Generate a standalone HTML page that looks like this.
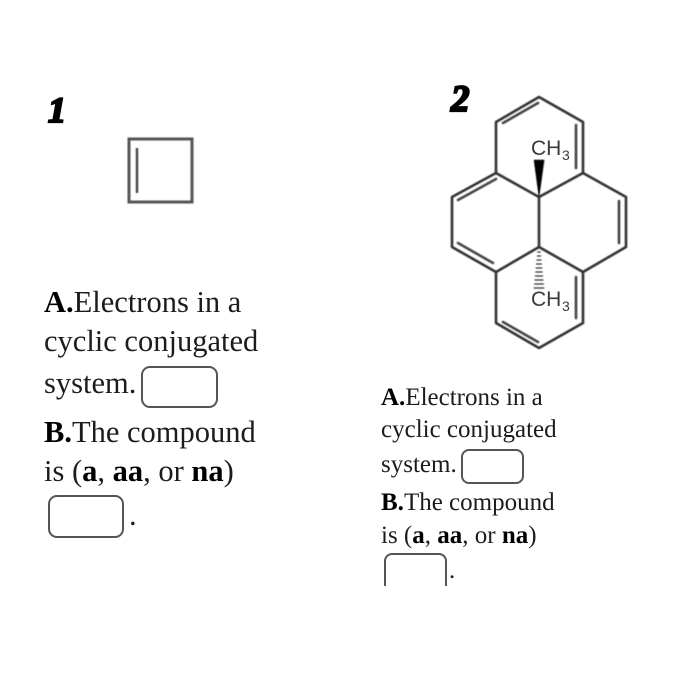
<!DOCTYPE html>
<html>
<head>
<meta charset="utf-8">
<style>
html,body{margin:0;padding:0;background:#fff;width:700px;height:700px;overflow:hidden}
svg{display:block}
.t{font-family:"Liberation Serif",serif;fill:#1c1c1c}
.l{font-size:30.5px}
.r{font-size:25px}
.b{font-weight:bold;fill:#000}
.n{font-family:"Liberation Serif",serif;font-weight:bold;font-style:italic;fill:#000;stroke:#000;stroke-width:2.2px}
.c{font-family:"Liberation Sans",sans-serif;fill:#3a3a3a;font-size:21px}
.c2{font-family:"Liberation Sans",sans-serif;fill:#3a3a3a;font-size:14px}
.bx{fill:#fff;stroke:#555;stroke-width:2}
</style>
</head>
<body>
<svg width="700" height="700" viewBox="0 0 700 700" xmlns="http://www.w3.org/2000/svg">
<defs>
<filter id="s" x="-5%" y="-5%" width="110%" height="110%"><feGaussianBlur stdDeviation="0.45"/></filter>
<filter id="s2" x="0" y="0" width="700" height="700" filterUnits="userSpaceOnUse"><feGaussianBlur stdDeviation="0.3"/></filter>
<clipPath id="cl"><rect x="375" y="545" width="85" height="41"/></clipPath>
</defs>

<text class="n" x="48" y="122" font-size="36">1</text>
<text class="n" x="451" y="111" font-size="37">2</text>

<g filter="url(#s)" fill="none">
<rect x="129" y="139" width="63" height="63" stroke="#555" stroke-width="3"/>
<line x1="137" y1="148" x2="137" y2="193" stroke="#444" stroke-width="2.4"/>
</g>

<g filter="url(#s)" fill="none" stroke="#333" stroke-width="2.6" stroke-linecap="round" stroke-linejoin="round">
<path d="M539 97L583 122V173L626 197V247L583 272V323L539 348L496 323V272L452 247V197L496 173V122Z"/>
<path d="M496 173L539 197L583 173M539 197V247M496 272L539 247L583 272"/>
<path d="M503 123L538 103M576 125V168M458 200L496 179M458 243L493 263M619 201V243M576 277V318M503 322L538 342" stroke="#444"/>
<polygon points="539,197 534,160 544,160" fill="#000" stroke="#000" stroke-width="0.5"/>
<path d="M537.8 252H540.2M537.4 256H540.6M537 260H541M536.6 264H541.4M536.2 268H541.8M535.8 272H542.2M535.4 276H542.6M535 280H543M534.6 284H543.4M534.2 288H543.8" stroke="#333" stroke-width="1.3"/>
</g>
<g filter="url(#s2)">
<text class="c" x="531" y="155">CH</text>
<text class="c2" x="562" y="160">3</text>
<text class="c" x="531" y="306">CH</text>
<text class="c2" x="562" y="311">3</text>

<text class="t l" x="44" y="312"><tspan class="b">A.</tspan>Electrons in a</text>
<text class="t l" x="44" y="351">cyclic conjugated</text>
<text class="t l" x="44" y="393">system.</text>
<text class="t l" x="44" y="442"><tspan class="b">B.</tspan>The compound</text>
<text class="t l" x="44" y="481">is (<tspan class="b">a</tspan>, <tspan class="b">aa</tspan>, or <tspan class="b">na</tspan>)</text>
<text class="t l" x="129" y="525">.</text>
<rect class="bx" x="142" y="367" width="75" height="40" rx="8"/>
<rect class="bx" x="49" y="496" width="74" height="41" rx="8"/>

<text class="t r" x="381" y="405"><tspan class="b">A.</tspan>Electrons in a</text>
<text class="t r" x="381" y="437">cyclic conjugated</text>
<text class="t r" x="381" y="472">system.</text>
<text class="t r" x="381" y="510"><tspan class="b">B.</tspan>The compound</text>
<text class="t r" x="381" y="543">is (<tspan class="b">a</tspan>, <tspan class="b">aa</tspan>, or <tspan class="b">na</tspan>)</text>
<text class="t r" x="449" y="578">.</text>
<rect class="bx" x="462" y="450" width="61" height="33" rx="7"/>
<rect class="bx" x="385" y="554" width="61" height="44" rx="7" clip-path="url(#cl)"/>
</g>
</svg>
</body>
</html>
